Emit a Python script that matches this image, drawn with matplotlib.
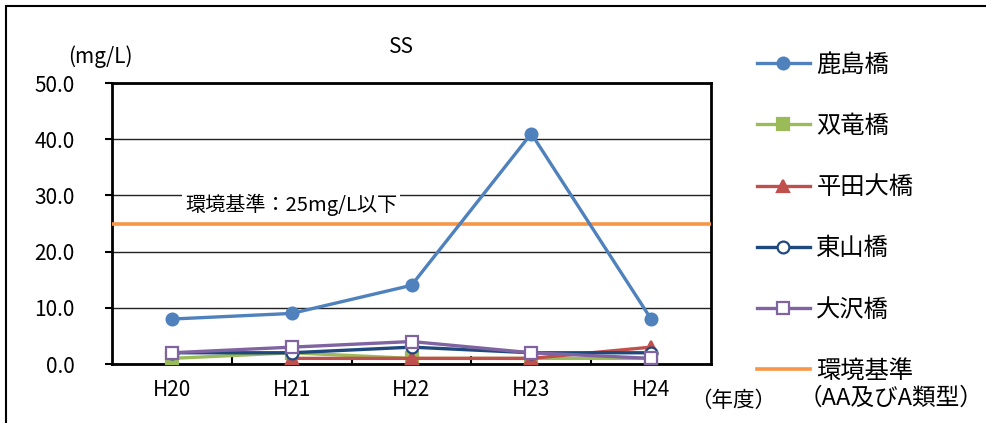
import matplotlib
matplotlib.use("Agg")
import matplotlib.pyplot as plt
from matplotlib.patches import Rectangle
from matplotlib.ticker import FixedLocator, FormatStrFormatter
import numpy as np

plt.rcParams['font.family'] = ['Noto Sans CJK JP', 'DejaVu Sans']

years = ["H20", "H21", "H22", "H23", "H24"]
kashima = [8, 9, 14, 41, 8]
soryu = [1, 2, 1, 1, 1]
hirata = [np.nan, 1, 1, 1, 3]
higashiyama = [2, 2, 3, 2, 2]
osawa = [2, 3, 4, 2, 1]
standard = 25

series = [
    ("鹿島橋", kashima, "#4F81BD", "o", True),
    ("双竜橋", soryu, "#9BBB59", "s", True),
    ("平田大橋", hirata, "#C0504D", "^", True),
    ("東山橋", higashiyama, "#1F497D", "o", False),
    ("大沢橋", osawa, "#8064A2", "s", False),
]

W, H = 986, 423
L, R, T, B = 112, 711, 83, 364
fig = plt.figure(figsize=(W / 100, H / 100), dpi=100)
ax = fig.add_axes([L / W, 1 - B / H, (R - L) / W, (B - T) / H])

x = np.arange(len(years))

handles = []
for name, vals, color, marker, filled in series:
    ln, = ax.plot(x, vals, color=color, lw=2.4, marker=marker, markersize=8.5,
                  markerfacecolor=color if filled else "white",
                  markeredgecolor=color, markeredgewidth=1.6, label=name,
                  zorder=4, clip_on=False)
    handles.append(ln)

std_line = ax.axhline(standard, color="#F79646", lw=2.6, zorder=3, label="環境基準")
handles.append(std_line)

ax.text((185 - L) / (R - L), standard + 3.4, "環境基準：25mg/L以下",
        transform=ax.get_yaxis_transform(), fontsize=14.5, va="center", ha="left",
        bbox=dict(facecolor="white", edgecolor="none", pad=2), zorder=2)

ax.set_xlim(-0.5, len(years) - 0.5)
ax.set_ylim(0, 50)
ax.yaxis.set_major_locator(FixedLocator([0, 10, 20, 30, 40, 50]))
ax.yaxis.set_major_formatter(FormatStrFormatter("%.1f"))
ax.set_xticks(x)
ax.set_xticklabels(years)
ax.xaxis.set_minor_locator(FixedLocator(np.arange(0.5, len(years) - 1, 1.0)))
ax.tick_params(axis="x", which="major", length=0, pad=11, labelsize=15)
ax.tick_params(axis="x", which="minor", direction="in", length=6, width=1.5)
ax.tick_params(axis="y", length=5, width=1.5, direction="out", pad=22, labelsize=15)
ax.grid(axis="y", color="#222222", lw=1.0, zorder=1)
ax.set_axisbelow(True)
for s in ax.spines.values():
    s.set_color("black")
    s.set_linewidth(2.0)

fig.text(100 / W, 1 - 57 / H, "(mg/L)", fontsize=15, ha="center", va="center")
fig.text(401 / W, 1 - 47 / H, "SS", fontsize=15, ha="center", va="center")
fig.text(733 / W, 1 - 401 / H, "（年度）", fontsize=15.5, ha="center", va="center")

leg = fig.legend(handles=handles, loc="upper left",
                 bbox_to_anchor=(747 / W, 1 - 42 / H), frameon=False,
                 fontsize=17.5, handlelength=2.2, handletextpad=0.25,
                 labelspacing=1.45, borderaxespad=0)
fig.text(799 / W, 1 - 398 / H, "（AA及びA類型）", fontsize=17, ha="left", va="center")

fig.patches.append(Rectangle((6 / W, -0.05), 1.1, 1 - 6 / H + 0.05,
                             transform=fig.transFigure, fill=False,
                             edgecolor="black", lw=1.5))

fig.savefig("out.png", dpi=100)
